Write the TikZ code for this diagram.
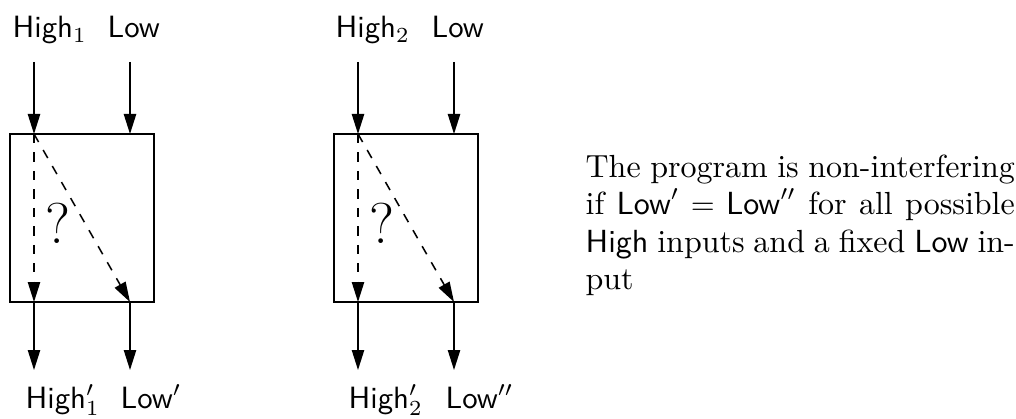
\documentclass[tikz,border=0pt]{standalone}
\usetikzlibrary{arrows.meta}
\begin{document}
\begin{tikzpicture}[x=0.325pt,y=-0.325pt,
  >={Triangle[length=6.5pt,width=4pt]},
  box/.style={draw, line width=0.5pt, minimum width=46.8pt, minimum height=54.6pt, inner sep=0pt, outer sep=0pt},
  lbl/.style={font=\sffamily, anchor=base west, inner sep=0pt},
  flow/.style={->, line width=0.5pt},
  leak/.style={->, line width=0.5pt, dash pattern=on 3pt off 3pt},
  qmark/.style={font=\fontsize{18.7}{22}\selectfont, inner sep=0pt}]
\useasboundingbox (0,0) rectangle (1016,418);

% boxes
\node[box] (b1) at (82,218) {};
\node[box] (b2) at (406,218) {};

% labels
\node[lbl] (h1) at (12,38) {High$_1$};
\node[lbl] (l1) at (107,38) {Low};
\node[lbl] (h1o) at (25,408) {High$'_1$};
\node[lbl] (l1o) at (120,408) {Low$'$};
\node[lbl] (h2) at (335,38) {High$_2$};
\node[lbl] (l2) at (431,38) {Low};
\node[lbl] (h2o) at (348,408) {High$'_2$};
\node[lbl] (l2o) at (445,408) {Low$''$};

% coordinates box 1
\coordinate (i1h) at (34,62);  \coordinate (i1l) at (130,62);
\coordinate (t1h) at (34,134); \coordinate (t1l) at (130,134);
\coordinate (o1h) at (34,302); \coordinate (o1l) at (130,302);
\coordinate (e1h) at (34,370); \coordinate (e1l) at (130,370);
% coordinates box 2
\coordinate (i2h) at (358,62);  \coordinate (i2l) at (454,62);
\coordinate (t2h) at (358,134); \coordinate (t2l) at (454,134);
\coordinate (o2h) at (358,302); \coordinate (o2l) at (454,302);
\coordinate (e2h) at (358,370); \coordinate (e2l) at (454,370);

% flows
\draw[flow] (i1h) -- (t1h);
\draw[flow] (i1l) -- (t1l);
\draw[flow] (o1h) -- (e1h);
\draw[flow] (o1l) -- (e1l);
\draw[flow] (i2h) -- (t2h);
\draw[flow] (i2l) -- (t2l);
\draw[flow] (o2h) -- (e2h);
\draw[flow] (o2l) -- (e2l);

% leaks
\draw[leak] (t1h) -- (o1h);
\draw[leak] (t1h) -- (o1l);
\draw[leak] (t2h) -- (o2h);
\draw[leak] (t2h) -- (o2l);

\node[qmark] (q1) at (58,223) {?};
\node[qmark] (q2) at (382,223) {?};

% explanation
\node[anchor=north west, text width=139.5pt, align=justify, inner sep=0pt,
      font=\fontsize{10.4}{12.2}\selectfont] (txt) at (585,154)
  {The program is non-interfering if $\textsf{Low}' = \textsf{Low}''$ for all possible \textsf{High} inputs and a fixed \textsf{Low} input};
\end{tikzpicture}
\end{document}
